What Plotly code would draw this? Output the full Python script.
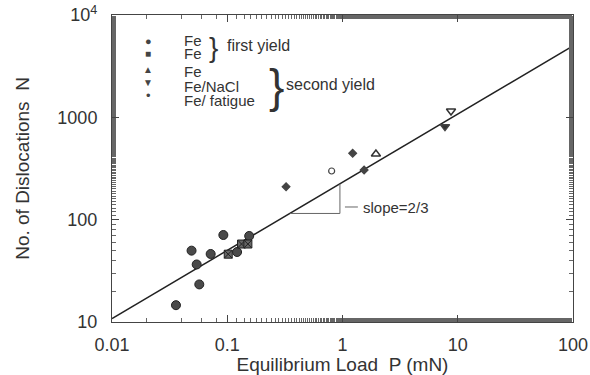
import plotly.graph_objects as go

# ---- data ----
fe1_circ_P = [0.0359, 0.049, 0.0543, 0.0572, 0.0718, 0.0925, 0.1217, 0.155]
fe1_circ_N = [14.6, 49.8, 36.5, 23.3, 46.2, 70.8, 48.3, 69.3]
fe1_sq_P = [0.102, 0.133, 0.151]
fe1_sq_N = [46.0, 57.8, 57.8]
fe2_P = [1.95]
fe2_N = [439]
nacl_P = [8.74, 7.75]
nacl_N = [1155, 811]
nacl_sym = ["triangle-down-open", "triangle-down"]
fat_P = [0.324, 0.805, 1.225, 1.54]
fat_N = [210, 299, 446, 306]
fat_sym = ["diamond", "circle-open", "diamond", "diamond"]

fit_P = [0.01, 100]
fit_N = [10.8, 5000]
tri_P = [0.35, 0.95, 0.95]
tri_N = [115, 115, 224]
dash_P = [1.05, 1.36]
dash_N = [133, 133]

x_tickvals = [0.01, 0.1, 1, 10, 100]
x_ticktext = ["0.01", "0.1", "1", "10", "100"]
y_tickvals = [10, 100, 1000, 10000]
y_ticktext = ["10", "100", "1000", "10<sup>4</sup>"]

INK = "#333333"
MK = "#4a4a4a"
FONT = "Liberation Sans, Arial, sans-serif"
PAD = "\u00a0\u00a0"

fig = go.Figure()
fig.add_trace(go.Scatter(x=fit_P, y=fit_N, mode="lines",
                         line=dict(color="#222", width=1.5), showlegend=False))
fig.add_trace(go.Scatter(x=tri_P, y=tri_N, mode="lines",
                         line=dict(color="#666", width=1), showlegend=False))
fig.add_trace(go.Scatter(x=dash_P, y=dash_N, mode="lines",
                         line=dict(color="#666", width=1), showlegend=False))
fig.add_trace(go.Scatter(x=fe1_circ_P, y=fe1_circ_N, mode="markers",
                         marker=dict(symbol="circle", size=9, color=MK,
                                     line=dict(color="#222", width=1)),
                         showlegend=False))
fig.add_trace(go.Scatter(x=fe1_sq_P, y=fe1_sq_N, mode="markers",
                         marker=dict(symbol="square-x", size=8, color="#666",
                                     line=dict(color="#222", width=1)),
                         showlegend=False))
fig.add_trace(go.Scatter(x=fe2_P, y=fe2_N, mode="markers",
                         marker=dict(symbol="triangle-up-open", size=8, color="#333",
                                     line=dict(width=1.5)),
                         showlegend=False))
fig.add_trace(go.Scatter(x=nacl_P, y=nacl_N, mode="markers",
                         marker=dict(symbol=nacl_sym, size=8, color="#333",
                                     line=dict(width=1.5)),
                         showlegend=False))
fig.add_trace(go.Scatter(x=fat_P, y=fat_N, mode="markers",
                         marker=dict(symbol=fat_sym, size=6, color="#444",
                                     line=dict(width=1.2)),
                         showlegend=False))

ann = []
L, R, T, B = 112, 573, 15, 322


def px(x):
    return (x - L) / (R - L)


def py(y):
    return (B - y) / (B - T)


leg = [("●", 41, "Fe", 11), ("■", 54, "Fe", 10), ("▲", 69, "Fe", 10),
       ("▼", 82, "Fe/NaCl", 10), ("•", 95, "Fe/ fatigue", 13)]
text_y = [40, 54, 71, 86, 100]
for (sym, sy, txt, fs), ty in zip(leg, text_y):
    ann.append(dict(x=px(148), y=py(sy), xref="paper", yref="paper", text=sym,
                    showarrow=False, font=dict(size=fs, color="#444", family=FONT),
                    xanchor="center", yanchor="middle"))
    ann.append(dict(x=px(182), y=py(ty), xref="paper", yref="paper", text=txt,
                    showarrow=False, font=dict(size=15, color=INK, family=FONT),
                    xanchor="left", yanchor="middle"))
ann.append(dict(x=px(207), y=py(47), xref="paper", yref="paper", text="}",
                showarrow=False, font=dict(size=28, color=INK, family=FONT),
                xanchor="left", yanchor="middle"))
ann.append(dict(x=px(225), y=py(45), xref="paper", yref="paper", text="first yield",
                showarrow=False, font=dict(size=16, color=INK, family=FONT),
                xanchor="left", yanchor="middle"))
ann.append(dict(x=px(267), y=py(86), xref="paper", yref="paper", text="}",
                showarrow=False, font=dict(size=46, color=INK, family=FONT),
                xanchor="left", yanchor="middle"))
ann.append(dict(x=px(284), y=py(84), xref="paper", yref="paper", text="second yield",
                showarrow=False, font=dict(size=16, color=INK, family=FONT),
                xanchor="left", yanchor="middle"))
ann.append(dict(x=px(361), y=py(207), xref="paper", yref="paper", text="slope=2/3",
                showarrow=False, font=dict(size=15, color=INK, family=FONT),
                xanchor="left", yanchor="middle"))

fig.update_layout(
    width=590, height=375, autosize=False,
    margin=dict(l=L, r=590 - R, t=T, b=375 - B),
    paper_bgcolor="white", plot_bgcolor="white",
    font=dict(family=FONT, color=INK, size=18),
    annotations=ann,
)
axis_common = dict(
    type="log", showgrid=False, zeroline=False, automargin=False,
    showline=True, linecolor="#444", linewidth=1, mirror="ticks",
    ticks="inside", ticklen=7, tickcolor="#444", tickwidth=1,
    minor=dict(ticks="inside", ticklen=4, tickcolor="#666", showgrid=False),
    tickfont=dict(size=18, color=INK, family=FONT),
)
fig.update_xaxes(**axis_common, range=[-2, 2], tickvals=x_tickvals, ticktext=x_ticktext,
                 ticklabelstandoff=6,
                 title=dict(text="Equilibrium Load  P (mN)", standoff=0,
                            font=dict(size=19, color=INK, family=FONT)))
fig.update_yaxes(**axis_common, range=[1, 4], tickvals=y_tickvals,
                 ticktext=[t + PAD for t in y_ticktext],
                 title=dict(text="No. of Dislocations  N", standoff=22,
                            font=dict(size=19, color=INK, family=FONT)))

fig.write_html("out.html", config={"displayModeBar": False})
